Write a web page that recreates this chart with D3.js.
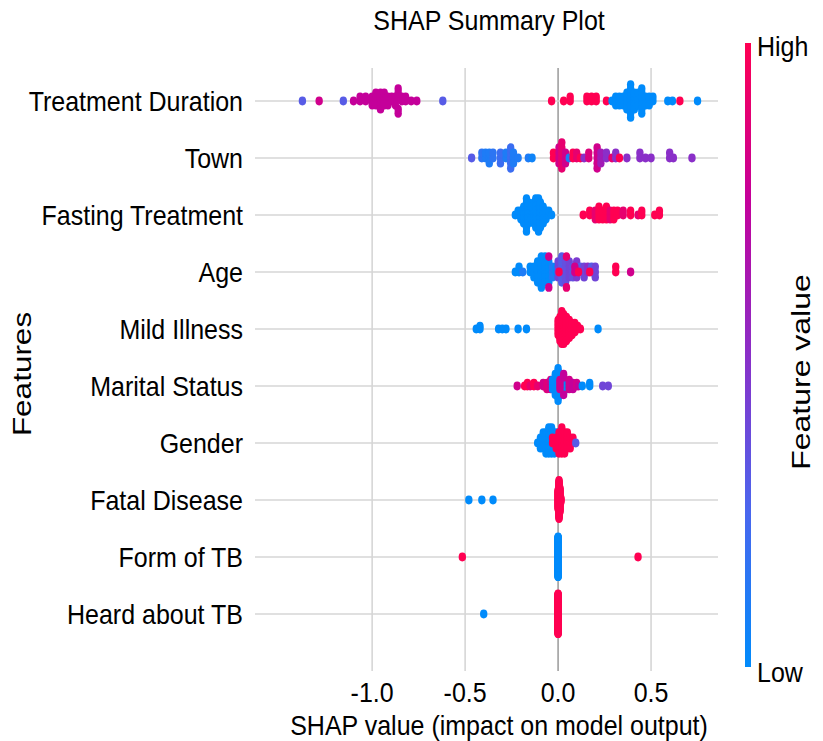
<!DOCTYPE html>
<meta charset="utf-8">
<script src="https://cdn.jsdelivr.net/npm/d3@7"></script>
<style>
  body { margin: 0; background: #fff; }
  text { font-family: "Liberation Sans", Arial, sans-serif; fill: #000; }
</style>
<body>
<script>
// features, top to bottom
var features = ['Treatment Duration', 'Town', 'Fasting Treatment', 'Age', 'Mild Illness',
                'Marital Status', 'Gender', 'Fatal Disease', 'Form of TB', 'Heard about TB'];
var xTicks = [-1.0, -0.5, 0.0, 0.5];

// each entry: [shap value, feature value (0 low .. 1 high), number of points]
var treatmentDuration = [
  [-1.375, 0.3, 1], [-1.285, 0.8, 1], [-1.155, 0.3, 1], [-1.10, 0.75, 1], [-1.065, 0.75, 2],
  [-1.035, 0.75, 2], [-1.0, 0.75, 3], [-0.98, 0.75, 4], [-0.955, 0.75, 5], [-0.935, 0.75, 4],
  [-0.915, 0.75, 3], [-0.895, 0.75, 2], [-0.875, 0.75, 3], [-0.86, 0.75, 4], [-0.84, 0.75, 2],
  [-0.82, 0.75, 2], [-0.79, 0.75, 1], [-0.76, 0.75, 1], [-0.62, 0.3, 1],
  [-0.035, 1, 1], [0.03, 1, 1], [0.065, 1, 2], [0.155, 1, 2], [0.18, 1, 2], [0.205, 1, 2],
  [0.26, 1, 1], [0.31, 1, 1], [0.655, 1, 1],
  [0.29, 0, 1], [0.31, 0, 2], [0.33, 0, 3], [0.35, 0, 3], [0.37, 0, 5], [0.39, 0, 9],
  [0.41, 0, 5], [0.43, 0, 4], [0.45, 0, 7], [0.47, 0, 3], [0.49, 0, 3], [0.51, 0, 2],
  [0.59, 0, 1], [0.615, 0, 1], [0.75, 0, 1]
];
var town = [
  [-0.465, 0.3, 1], [-0.41, 0.15, 2], [-0.39, 0.1, 2], [-0.37, 0.1, 3], [-0.35, 0.15, 2],
  [-0.31, 0.2, 3], [-0.28, 0.1, 2], [-0.255, 0.2, 5], [-0.24, 0.1, 3], [-0.215, 0.1, 1],
  [-0.16, 0.1, 1], [-0.14, 0.05, 1],
  [-0.025, 1, 2], [0.005, 0.8, 4], [0.02, 0.9, 6], [0.04, 0.8, 3], [0.06, 0.1, 1],
  [0.08, 1, 2], [0.1, 0.9, 2], [0.12, 1, 1], [0.14, 0.5, 1], [0.165, 0.85, 2], [0.21, 0.8, 5],
  [0.23, 0.6, 3], [0.26, 0.5, 2], [0.29, 0.9, 1], [0.31, 0.5, 2], [0.33, 1, 1], [0.37, 0.5, 1],
  [0.44, 0.5, 2], [0.47, 0.5, 1], [0.5, 0.5, 1], [0.6, 0.5, 2], [0.62, 0.5, 1], [0.72, 0.5, 1]
];
var fastingTreatment = [
  [-0.23, 0, 1], [-0.215, 0, 2], [-0.2, 0, 3], [-0.185, 0, 5], [-0.17, 0, 9], [-0.16, 0, 6],
  [-0.145, 0, 4], [-0.13, 0, 6], [-0.12, 0, 8], [-0.105, 0, 9], [-0.095, 0, 7], [-0.08, 0, 5],
  [-0.065, 0, 3], [-0.05, 0, 2], [-0.035, 0, 1],
  [0.135, 1, 1], [0.17, 1, 2], [0.2, 0.9, 3], [0.22, 1, 4], [0.24, 1, 3], [0.26, 1, 4],
  [0.28, 0.9, 3], [0.3, 1, 3], [0.32, 1, 2], [0.35, 0.9, 2], [0.39, 1, 2], [0.43, 0.9, 1],
  [0.45, 1, 2], [0.52, 1, 1], [0.545, 1, 2]
];
var age = [
  [-0.23, 0, 1], [-0.21, 0, 2], [-0.19, 0.1, 1], [-0.15, 0, 2], [-0.13, 0, 3], [-0.11, 0, 5],
  [-0.09, 0, 7], [-0.07, 0, 6], [-0.05, 0, 5], [-0.03, 0.1, 3], [-0.01, 0, 2],
  [-0.05, 0.8, 2],
  [0.0, 0.4, 4], [0.02, 0.3, 6], [0.04, 0.35, 5], [0.06, 0.4, 4], [0.08, 0.35, 3], [0.1, 0.45, 4],
  [0.12, 0.3, 2], [0.14, 0.4, 3], [0.16, 0.5, 2], [0.18, 0.3, 2], [0.2, 0.4, 3],
  [0.005, 1, 1], [0.045, 0.9, 2], [0.09, 0.8, 2], [0.11, 1, 1], [0.17, 1, 1], [0.31, 1, 2], [0.39, 0.8, 1]
];
var mildIllness = [
  [-0.44, 0, 1], [-0.42, 0, 2], [-0.32, 0, 1], [-0.3, 0, 1], [-0.28, 0, 1], [-0.215, 0, 1],
  [-0.17, 0, 1], [0.215, 0, 1],
  [0.0, 1, 6], [0.01, 1, 9], [0.02, 1, 12], [0.03, 1, 11], [0.045, 1, 9], [0.06, 1, 7],
  [0.075, 1, 5], [0.09, 1, 4], [0.105, 1, 2], [0.12, 1, 1]
];
var maritalStatus = [
  [-0.22, 0.8, 1], [-0.18, 1, 1], [-0.165, 1, 2], [-0.15, 0.9, 1], [-0.13, 1, 2], [-0.11, 0.9, 1],
  [-0.08, 0.8, 2], [-0.06, 0.85, 3], [-0.04, 0.8, 4], [-0.02, 0.8, 3],
  [-0.03, 0, 4], [-0.015, 0, 8], [0.0, 0, 12], [0.015, 0, 8], [0.03, 0, 5], [0.045, 0, 3],
  [0.01, 0.8, 4], [0.03, 0.75, 3], [0.06, 0.8, 4], [0.08, 0.75, 3], [0.1, 0.8, 2], [0.11, 0.75, 1],
  [0.13, 0, 1], [0.17, 0, 2], [0.24, 0.4, 1], [0.27, 0.4, 1]
];
var gender = [
  [-0.11, 0, 1], [-0.095, 0, 3], [-0.08, 0, 4], [-0.065, 0, 5], [-0.05, 0, 6], [-0.035, 0, 6],
  [-0.02, 0, 5], [-0.005, 0, 4], [0.01, 0, 2],
  [-0.03, 1, 2], [-0.01, 1, 3], [0.005, 1, 5], [0.02, 1, 6], [0.035, 1, 5], [0.05, 1, 4],
  [0.065, 1, 3], [0.08, 1, 2], [0.095, 0.3, 1]
];
var fatalDisease = [
  [-0.48, 0, 1], [-0.41, 0, 1], [-0.35, 0, 1],
  [0.0, 1, 20], [0.005, 1, 40], [0.01, 1, 25], [0.015, 1, 5]
];
var formOfTB = [
  [-0.515, 1, 1], [0.43, 1, 1], [0.0, 0, 90]
];
var heardAboutTB = [
  [-0.4, 0, 1], [0.0, 1, 90]
];
var rows = [treatmentDuration, town, fastingTreatment, age, mildIllness,
            maritalStatus, gender, fatalDisease, formOfTB, heardAboutTB];

// shap red-blue colormap
var cmapStops = ['#008bfb', '#4a66ee', '#8a2fc8', '#c4009a', '#ff0052'];

var W = 823, H = 741;
var SY = 1.14; // the picture is a little taller than wide
var svg = d3.select('body').append('svg').attr('width', W).attr('height', H);

var x = d3.scaleLinear().domain([-1.63, 0.86]).range([255, 718]);
var y = d3.scalePoint().domain(features).range([101, 614]);
var rowStep = y.step();
var color = d3.scaleLinear()
    .domain(d3.range(cmapStops.length).map(function (i) { return i / (cmapStops.length - 1); }))
    .range(cmapStops)
    .interpolate(d3.interpolateRgb);

// vertical grid
svg.append('g').selectAll('line').data(xTicks).enter().append('line')
    .attr('x1', function (d) { return x(d); })
    .attr('x2', function (d) { return x(d); })
    .attr('y1', 68).attr('y2', 671)
    .style('stroke', function (d) { return d === 0 ? '#a0a0a0' : '#d6d6d6'; })
    .style('stroke-width', 1.6);

// horizontal row lines
svg.append('g').selectAll('line').data(features).enter().append('line')
    .attr('x1', 255).attr('x2', 718)
    .attr('y1', function (d) { return y(d); })
    .attr('y2', function (d) { return y(d); })
    .style('stroke', '#d6d6d6')
    .style('stroke-width', 1.6);

// beeswarm layout as in shap summary_plot
var swarm = function (clusters, rowY) {
    var pts = [];
    clusters.forEach(function (c) {
        for (var k = 0; k < c[2]; k++) pts.push({ v: c[0], f: c[1] });
    });
    var lo = d3.min(pts, function (p) { return p.v; });
    var hi = d3.max(pts, function (p) { return p.v; });
    var nbins = 100;
    pts.forEach(function (p, i) {
        p.q = Math.round(nbins * (p.v - lo) / (hi - lo + 1e-8));
        p.i = i;
    });
    var order = pts.slice().sort(function (a, b) { return a.q - b.q || a.i - b.i; });
    var layer = 0, lastBin = -1;
    order.forEach(function (p) {
        if (p.q !== lastBin) layer = 0;
        p.ys = Math.ceil(layer / 2) * ((layer % 2) * 2 - 1);
        layer += 1;
        lastBin = p.q;
    });
    var maxYs = d3.max(pts, function (p) { return p.ys + 1; });
    var spread = 0.9 * 0.4 * rowStep;
    pts.forEach(function (p) { p.y = rowY - p.ys * spread / maxYs; });
    return pts;
};

rows.forEach(function (clusters, i) {
    var pts = swarm(clusters, y(features[i]));
    svg.append('g').selectAll('ellipse').data(pts).enter().append('ellipse')
        .attr('cx', function (d) { return x(d.v); })
        .attr('cy', function (d) { return d.y; })
        .attr('rx', 3.7)
        .attr('ry', 4.4)
        .style('fill', function (d) { return color(d.f); });
});

// horizontal text, stretched vertically like the picture
var hText = function (tx, ty, s, anchor) {
    return svg.append('text')
        .attr('transform', 'translate(' + tx + ',' + ty + ') scale(1,' + SY + ')')
        .attr('text-anchor', anchor || 'start')
        .style('font-size', '25px')
        .text(s);
};

// feature labels
features.forEach(function (d) {
    hText(243, y(d), d, 'end').attr('dy', '0.35em');
});

// x tick labels
xTicks.forEach(function (d) {
    hText(x(d), 702, d3.format('.1f')(d).replace('−', '-'), 'middle');
});

hText(499, 735, 'SHAP value (impact on model output)', 'middle');
hText(489, 30, 'SHAP Summary Plot', 'middle');

svg.append('text')
    .attr('transform', 'translate(31,374) rotate(-90) scale(1.26,1)')
    .attr('text-anchor', 'middle')
    .style('font-size', '25px')
    .text('Features');

// colour bar
var defs = svg.append('defs');
var grad = defs.append('linearGradient').attr('id', 'cbar')
    .attr('x1', 0).attr('y1', 1).attr('x2', 0).attr('y2', 0);
grad.selectAll('stop').data(cmapStops).enter().append('stop')
    .attr('offset', function (d, i) { return i / (cmapStops.length - 1); })
    .attr('stop-color', function (d) { return d; });

svg.append('rect')
    .attr('x', 745).attr('y', 43)
    .attr('width', 6).attr('height', 624)
    .style('fill', 'url(#cbar)');

hText(757, 56, 'High');
hText(757, 682, 'Low');
svg.append('text')
    .attr('transform', 'translate(810,372) rotate(-90) scale(1.28,1)')
    .attr('text-anchor', 'middle')
    .style('font-size', '25px')
    .text('Feature value');
</script>
</body>
